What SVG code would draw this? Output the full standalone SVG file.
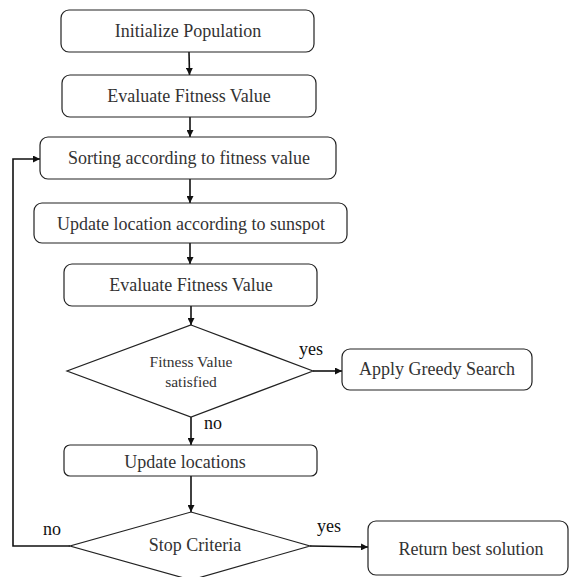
<svg xmlns="http://www.w3.org/2000/svg" width="570" height="577" viewBox="0 0 570 577">
<style>
.box{fill:#fff;stroke:#222;stroke-width:1.2}
.t{font-family:"Liberation Serif","Times New Roman",serif;font-size:18px;fill:#333;text-anchor:middle}
.s{font-size:15.5px}
.lbl{font-family:"Liberation Serif","Times New Roman",serif;font-size:18px;fill:#111}
.c{fill:none;stroke:#111;stroke-width:1.6}
</style>
<defs>
<marker id="ah" viewBox="0 0 10 10" refX="10" refY="5" markerWidth="7" markerHeight="7" markerUnits="userSpaceOnUse" orient="auto">
<path d="M0,0 L10,5 L0,10 z" fill="#111"/>
</marker>
</defs>
<rect width="570" height="577" fill="#fff"/>
<g id="connectors">
<path class="c" d="M189,52 L189.5,75" marker-end="url(#ah)"/>
<path class="c" d="M190,117 L190,137" marker-end="url(#ah)"/>
<path class="c" d="M190,179 L190,203" marker-end="url(#ah)"/>
<path class="c" d="M190,243 L190,264" marker-end="url(#ah)"/>
<path class="c" d="M191,306 L191,325" marker-end="url(#ah)"/>
<path class="c" d="M191,417 L191,445" marker-end="url(#ah)"/>
<path class="c" d="M191,476 L191,512" marker-end="url(#ah)"/>
<path class="c" d="M313,371 L342,371" marker-end="url(#ah)"/>
<path class="c" d="M310,546 L368,547" marker-end="url(#ah)"/>
<path class="c" d="M70,546 L13,546 L13,159 L40,159" marker-end="url(#ah)"/>
<text class="lbl" x="299" y="355">yes</text>
<text class="lbl" x="204" y="429">no</text>
<text class="lbl" x="43" y="535">no</text>
<text class="lbl" x="317" y="532">yes</text>
</g>
<g id="n1"><rect class="box" x="61" y="10" width="253" height="42" rx="8"/><text class="t" x="188" y="37">Initialize Population</text></g>
<g id="n2"><rect class="box" x="62" y="75" width="254" height="42" rx="8"/><text class="t" x="189" y="102">Evaluate Fitness Value</text></g>
<g id="n3"><rect class="box" x="40" y="137" width="296" height="42" rx="8"/><text class="t" x="189" y="164">Sorting according to fitness value</text></g>
<g id="n4"><rect class="box" x="34" y="203" width="313" height="40" rx="8"/><text class="t" x="191" y="230">Update location according to sunspot</text></g>
<g id="n5"><rect class="box" x="64" y="264" width="253" height="42" rx="8"/><text class="t" x="191" y="291">Evaluate Fitness Value</text></g>
<g id="d1"><polygon class="box" points="191,325 313,371 191,417 67,371"/><text class="t s" x="191" y="367">Fitness Value</text><text class="t s" x="191" y="387">satisfied</text></g>
<g id="n6"><rect class="box" x="342" y="349" width="190" height="41" rx="8"/><text class="t" x="437" y="375">Apply Greedy Search</text></g>
<g id="n7"><rect class="box" x="64" y="445" width="253" height="31" rx="6"/><text class="t" x="185" y="468">Update locations</text></g>
<g id="d2"><polygon class="box" points="191,512 310,546 191,580 70,546"/><text class="t" x="195" y="551">Stop Criteria</text></g>
<g id="n8"><rect class="box" x="368" y="521" width="200" height="54" rx="8"/><text class="t" x="471" y="555">Return best solution</text></g>
</svg>
